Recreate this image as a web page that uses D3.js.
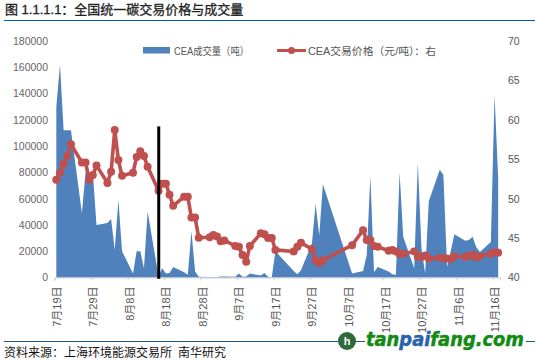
<!DOCTYPE html>
<html>
<head>
<meta charset="utf-8">
<style>
  html, body { margin: 0; padding: 0; background: #fff; }
  svg { display: block; }
  text { font-family: "Liberation Sans", "Noto Sans CJK SC", sans-serif; }
</style>
<script src="https://cdn.jsdelivr.net/npm/d3@7.9.0/dist/d3.min.js"></script>
</head>
<body>
<svg id="chart" width="535" height="361"></svg>
<script>
const dates = [
  "07-19","07-20","07-21","07-22","07-23","07-26","07-27","07-28","07-29","07-30",
  "08-02","08-03","08-04","08-05","08-06","08-09","08-10","08-11","08-12","08-13",
  "08-16","08-17","08-18","08-19","08-20","08-23","08-24","08-25","08-26","08-27",
  "08-30","08-31","09-01","09-02","09-03","09-06","09-07","09-08","09-09","09-10",
  "09-13","09-14","09-15","09-16","09-17","09-22","09-23","09-24","09-27","09-28",
  "09-29","09-30","10-08","10-11","10-12","10-13","10-14","10-15","10-18","10-19",
  "10-20","10-21","10-22","10-25","10-26","10-27","10-28","10-29","11-01","11-02",
  "11-03","11-04","11-05","11-08","11-09","11-10","11-11","11-12","11-15","11-16","11-17"
];
const volume = [
  130000,162000,112000,112000,112000,49000,80000,80000,80000,40000,
  41500,44500,21000,59000,20000,3000,20000,20000,7000,50000,
  1000,7000,3000,3500,8000,4000,2000,35000,4500,500,
  400,300,300,800,700,500,3000,500,800,3000,
  1500,3500,500,200,20000,5000,2500,5500,26000,56000,
  32000,71000,3000,5000,17000,77000,4000,8000,4500,2500,
  2000,80000,31000,7000,87000,22000,3000,58000,82000,78000,
  8000,20000,33000,28000,28500,31000,23000,19500,27000,139000,76000
];
const price = [
  52.4,53.3,54.4,55.45,56.9,54.6,54.6,52.4,53,54.2,
  52,53.4,58.7,54.9,52.9,53.3,55.3,56,55.4,54.05,
  51,51.9,51.9,50.5,49.1,50.25,50.25,47.6,47.6,45.05,
  45.1,45.4,45.2,44.6,44.7,44,43.9,42.85,42,44,
  45.6,45.5,45,45,43.5,43.3,43.9,44.4,43.6,42.2,
  41.8,42.2,44.1,46,44.75,44.75,44,43.9,43.4,43.5,
  43.3,43,43,43.3,42.65,42.6,42.8,42.4,42.5,42.45,
  42.4,42.3,42.7,42.6,42.8,42.85,42.55,42.7,43,43.2,43.15
];
const tickDates = ["07-19","07-29","08-08","08-18","08-28","09-07","09-17","09-27","10-07","10-17","10-27","11-06","11-16"];
const leftTicks = [0,20000,40000,60000,80000,100000,120000,140000,160000,180000];
const rightTicks = [40,45,50,55,60,65,70];

const parseDay = (s) => new Date(Date.UTC(2021, +s.slice(0, 2) - 1, +s.slice(3)));
const midDay = (s) => d3.utcHour.offset(parseDay(s), 12);
const monthDay = (s) => `${+s.slice(0, 2)}月${+s.slice(3)}日`;

const svg = d3.select("#chart");

const x = d3.scaleUtc().domain([parseDay("07-19"), parseDay("11-18")]).range([54.5, 500]);
const yVol = d3.scaleLinear().domain([0, 180000]).range([277.5, 41]);
const yPrice = d3.scaleLinear().domain([40, 70]).range([277.5, 41]);

// header and footer
svg.append("text").attr("x", 5).attr("y", 14).attr("font-size", 13)
  .attr("fill", "#222").attr("stroke", "#222").attr("stroke-width", 0.3)
  .text("图 1.1.1.1：全国统一碳交易价格与成交量");
svg.append("line").attr("x1", 4).attr("x2", 535).attr("y1", 20.5).attr("y2", 20.5)
  .attr("stroke", "#0060b0").attr("stroke-width", 1.2);
svg.append("line").attr("x1", 4).attr("x2", 535).attr("y1", 341.5).attr("y2", 341.5)
  .attr("stroke", "#1f5a8f").attr("stroke-width", 1);
svg.append("text").attr("x", 4).attr("y", 357).attr("font-size", 12)
  .attr("fill", "#111").text("资料来源：上海环境能源交易所\u2002南华研究");

// volume area
const area = d3.area()
  .x((d) => x(midDay(d.date)))
  .y0(yVol(0))
  .y1((d) => yVol(d.value));
svg.append("path")
  .datum(dates.map((date, i) => ({ date, value: volume[i] })))
  .attr("d", area)
  .attr("fill", "#4f81bd");

// axes
const xAxis = d3.axisBottom(x)
  .tickValues(tickDates.map(parseDay))
  .tickFormat((d, i) => monthDay(tickDates[i]))
  .tickSize(3);
const gx = svg.append("g").attr("transform", `translate(0,${yVol(0)})`).call(xAxis);
gx.selectAll("path,line").attr("stroke", "#d0d0d0").attr("stroke-width", 1);
gx.selectAll("text")
  .attr("transform", "rotate(-90)")
  .attr("x", -9).attr("y", 2).attr("dy", "0.35em")
  .attr("text-anchor", "end")
  .attr("font-size", 11).attr("fill", "#555");

const gl = svg.append("g").attr("transform", "translate(48,0)")
  .call(d3.axisLeft(yVol).tickValues(leftTicks).tickFormat(d3.format("d")).tickSize(0));
gl.select("path").remove();
gl.selectAll("text").attr("x", 0).attr("font-size", 10.5).attr("fill", "#666");

const gr = svg.append("g").attr("transform", "translate(508,0)")
  .call(d3.axisRight(yPrice).tickValues(rightTicks).tickSize(0));
gr.select("path").remove();
gr.selectAll("text").attr("x", 0).attr("font-size", 10.5).attr("fill", "#555");

// price line
const line = d3.line()
  .x((d) => x(midDay(d.date)))
  .y((d) => yPrice(d.value));
const priceData = dates.map((date, i) => ({ date, value: price[i] }));
svg.append("path").datum(priceData).attr("d", line)
  .attr("fill", "none").attr("stroke", "#c0504d").attr("stroke-width", 3.6)
  .attr("stroke-linejoin", "round");
svg.selectAll("circle.pt").data(priceData).join("circle").attr("class", "pt")
  .attr("cx", (d) => x(midDay(d.date)))
  .attr("cy", (d) => yPrice(d.value))
  .attr("r", 4)
  .attr("fill", "#c0504d");

// black marker line
svg.append("line")
  .attr("x1", x(parseDay("08-16")) + 2).attr("x2", x(parseDay("08-16")) + 2)
  .attr("y1", yVol(115000)).attr("y2", yVol(-1000))
  .attr("stroke", "#000").attr("stroke-width", 3);

// legend
svg.append("rect").attr("x", 143).attr("y", 47).attr("width", 27).attr("height", 6.5).attr("fill", "#4f81bd");
svg.append("text").attr("x", 174).attr("y", 54.5).attr("font-size", 10.5).attr("fill", "#555")
  .attr("textLength", 75).attr("lengthAdjust", "spacingAndGlyphs").text("CEA成交量（吨）");
svg.append("line").attr("x1", 277).attr("x2", 306).attr("y1", 50.5).attr("y2", 50.5)
  .attr("stroke", "#c0504d").attr("stroke-width", 3);
svg.append("circle").attr("cx", 291.5).attr("cy", 50.5).attr("r", 3.6).attr("fill", "#c0504d");
svg.append("text").attr("x", 308).attr("y", 54.5).attr("font-size", 10.5).attr("fill", "#555")
  .attr("textLength", 128).attr("lengthAdjust", "spacingAndGlyphs").text("CEA交易价格（元/吨）：右");

// watermark
svg.append("rect").attr("x", 365).attr("y", 332).attr("width", 161).attr("height", 22).attr("fill", "#fff");
svg.append("circle").attr("cx", 347).attr("cy", 341).attr("r", 9).attr("fill", "#2f6b3a");
svg.append("text").attr("x", 347).attr("y", 345).attr("text-anchor", "middle").attr("font-size", 11)
  .attr("font-weight", 700).attr("fill", "#fff").text("h");
const mark = svg.append("text").attr("x", 366).attr("y", 346).attr("font-size", 19)
  .attr("font-weight", 700).attr("font-style", "italic").attr("fill", "#138a13")
  .attr("stroke", "#138a13").attr("stroke-width", 0.5)
  .attr("textLength", 158).attr("lengthAdjust", "spacingAndGlyphs")
  .style("font-family", '"DejaVu Sans", sans-serif');
mark.append("tspan").text("tan");
mark.append("tspan").attr("fill", "#2a62ad").attr("stroke", "#2a62ad").text("pai");
mark.append("tspan").text("fang.com");
</script>
</body>
</html>
